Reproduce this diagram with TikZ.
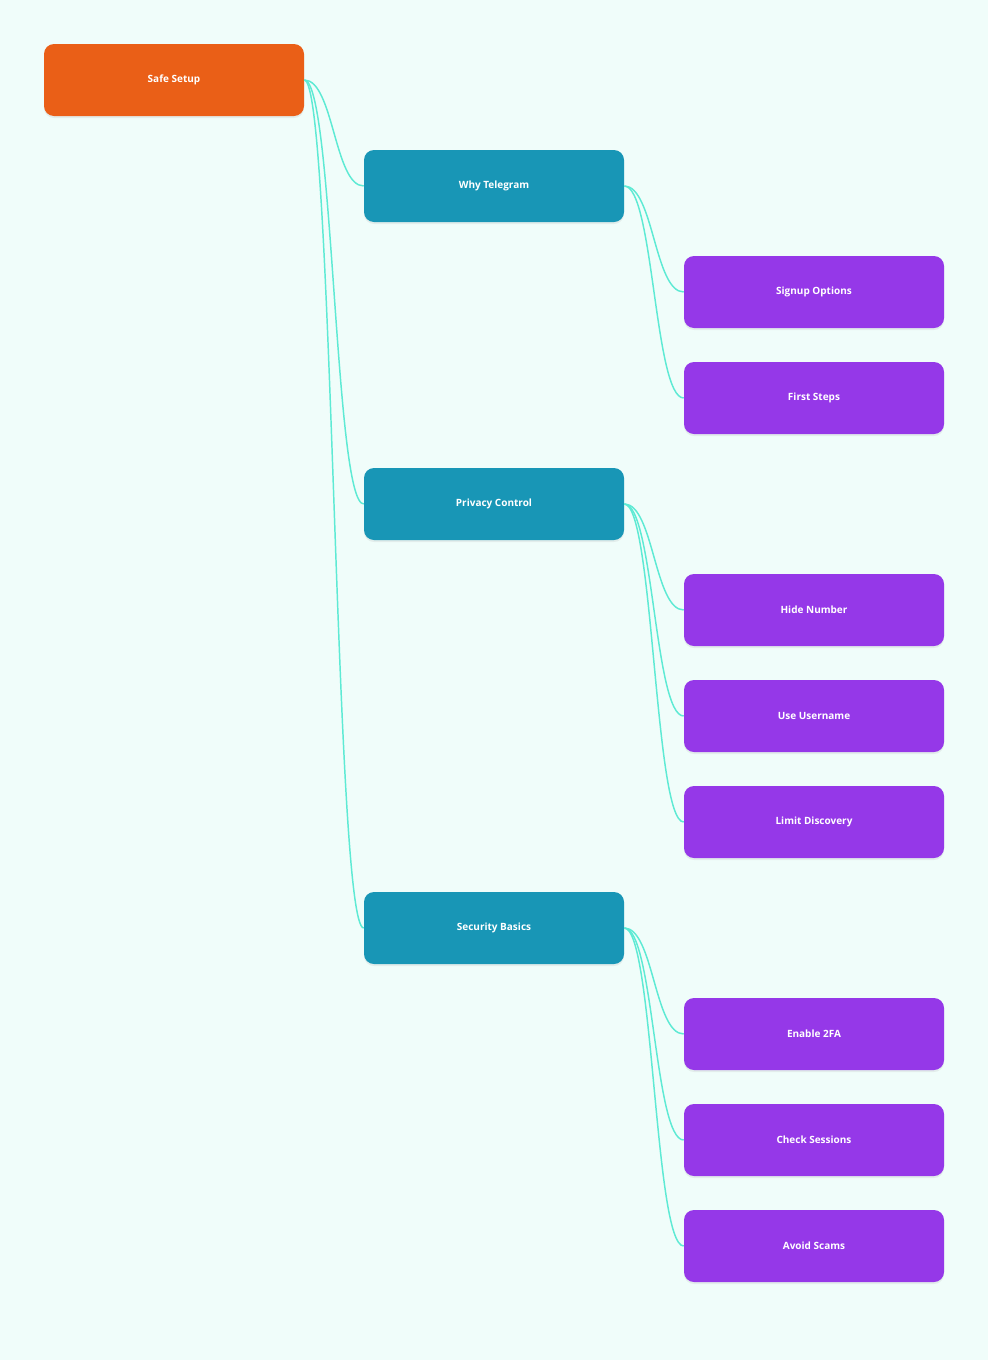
\documentclass[tikz,border=0pt]{standalone}
\usepackage{fontspec}
\setmainfont{Open Sans}
\usetikzlibrary{positioning,shadows}
\definecolor{bgmint}{HTML}{F0FDFA}
\definecolor{rootorange}{HTML}{EA5F17}
\definecolor{midteal}{HTML}{1896B6}
\definecolor{leafpurple}{HTML}{9538E8}
\definecolor{linkcyan}{HTML}{5EEAD4}
\tikzset{
    box/.style={rectangle, rounded corners=7.5pt, minimum width=195pt, minimum height=54pt,
        text=white, font=\fontsize{7.5}{9}\selectfont\bfseries,
        drop shadow={shadow xshift=0pt, shadow yshift=-1.5pt, opacity=0.12}},
    root/.style={box, fill=rootorange},
    mid/.style={box, fill=midteal},
    leaf/.style={box, fill=leafpurple},
    link/.style={linkcyan, line width=1.1pt}
}
\newcommand{\linkto}[2]{\draw[link] (#1.east) .. controls ([xshift=22pt]#1.east) and ([xshift=-22pt]#2.west) .. (#2.west);}
\begin{document}
\begin{tikzpicture}[x=0.75pt, y=-0.75pt]
    \fill[bgmint] (0,0) rectangle (988,1360);
    \useasboundingbox (0,0) rectangle (988,1360);

    % Root
    \node[root] (safe) at (174,80) {Safe Setup};

    % Topics
    \node[mid] (why) at (494,186) {Why Telegram};
    \node[mid] (privacy) at (494,504) {Privacy Control};
    \node[mid] (security) at (494,928) {Security Basics};

    % Steps
    \node[leaf] (signup) at (814,292) {Signup Options};
    \node[leaf] (first) at (814,398) {First Steps};
    \node[leaf] (hide) at (814,610) {Hide Number};
    \node[leaf] (username) at (814,716) {Use Username};
    \node[leaf] (limit) at (814,822) {Limit Discovery};
    \node[leaf] (twofa) at (814,1034) {Enable 2FA};
    \node[leaf] (sessions) at (814,1140) {Check Sessions};
    \node[leaf] (scams) at (814,1246) {Avoid Scams};

    % Links
    \foreach \c in {why,privacy,security} {\linkto{safe}{\c}}
    \foreach \c in {signup,first} {\linkto{why}{\c}}
    \foreach \c in {hide,username,limit} {\linkto{privacy}{\c}}
    \foreach \c in {twofa,sessions,scams} {\linkto{security}{\c}}
\end{tikzpicture}
\end{document}
